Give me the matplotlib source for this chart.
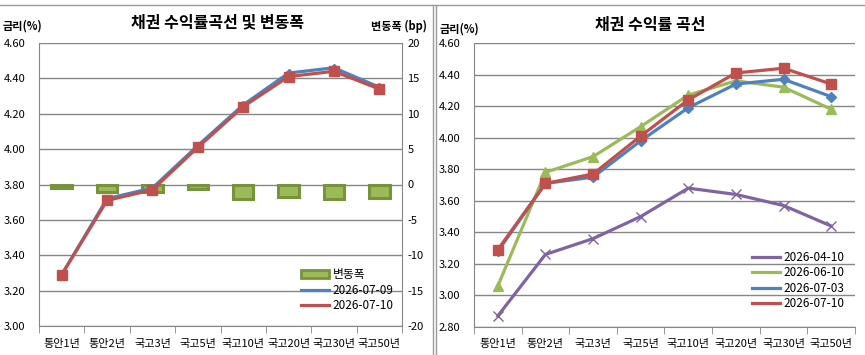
import numpy as np
import matplotlib.pyplot as plt
from matplotlib.patches import Patch
from matplotlib.lines import Line2D

plt.rcParams['font.family'] = ['Noto Sans CJK KR', 'DejaVu Sans']
plt.rcParams['axes.unicode_minus'] = False

# ---- data ----
cats = ['통안1년', '통안2년', '국고3년', '국고5년', '국고10년', '국고20년', '국고30년', '국고50년']

# left chart
left_dates = ['2026-07-09', '2026-07-10']
rate_0709 = [3.29, 3.72, 3.78, 4.02, 4.25, 4.43, 4.46, 4.35]
rate_0710 = [3.29, 3.71, 3.77, 4.01, 4.24, 4.41, 4.44, 4.34]
chg_bp = [-0.5, -1.0, -1.0, -0.7, -2.0, -1.7, -2.0, -1.9]

# right chart
right_dates = ['2026-04-10', '2026-06-10', '2026-07-03', '2026-07-10']
rate_0410 = [2.87, 3.26, 3.36, 3.50, 3.68, 3.64, 3.57, 3.44]
rate_0610 = [3.06, 3.78, 3.88, 4.07, 4.27, 4.36, 4.32, 4.18]
rate_0703 = [3.28, 3.71, 3.75, 3.98, 4.19, 4.34, 4.37, 4.26]

BLUE = '#4F81BD'
RED = '#C0504D'
GREEN = '#9BBB59'
DKGREEN = '#77933C'
PURPLE = '#8064A2'
GRID = '#868686'

W, H = 865, 355
fig = plt.figure(figsize=(W / 100, H / 100), dpi=100)
fig.patch.set_facecolor('white')

def rect(x0, y0, x1, y1):
    return [x0 / W, 1 - y1 / H, (x1 - x0) / W, (y1 - y0) / H]

x = np.arange(len(cats))

def style_x(ax):
    ax.set_xlim(-0.5, len(cats) - 0.5)
    ax.set_xticks(x)
    ax.set_xticklabels(cats, fontsize=8)
    ax.set_xticks(np.arange(-0.5, len(cats)), minor=True)
    ax.tick_params(axis='x', which='major', length=0, pad=9)
    ax.tick_params(axis='x', which='minor', length=5, color=GRID, direction='out')

# ---------- left chart ----------
r = rect(39, 43, 402, 326)
ax_bp = fig.add_axes(r)
ax_bp.bar(x, chg_bp, width=0.45, color=GREEN, edgecolor=DKGREEN, linewidth=2.2, zorder=3)
ax_bp.set_ylim(-20, 20)
ax_bp.set_yticks(np.arange(-20, 21, 5))
ax_bp.yaxis.tick_right()
ax_bp.tick_params(axis='y', length=0, labelsize=8, pad=4)
ax_bp.grid(axis='y', color=GRID, linewidth=1, zorder=0)
ax_bp.set_axisbelow(True)
style_x(ax_bp)
ax_bp.spines['top'].set_visible(False)
for s in ['left', 'right', 'bottom']:
    ax_bp.spines[s].set_color(GRID)

ax_r = fig.add_axes(r, sharex=ax_bp)
ax_r.patch.set_visible(False)
ax_r.plot(x, rate_0709, color=BLUE, lw=2.3, marker='D', ms=4, zorder=4)
ax_r.plot(x, rate_0710, color=RED, lw=2.3, marker='s', ms=6.5, zorder=5)
ax_r.set_ylim(3.0, 4.6)
ax_r.set_yticks(np.arange(3.0, 4.61, 0.2))
ax_r.set_yticklabels(['%.2f' % v for v in np.arange(3.0, 4.61, 0.2)])
ax_r.tick_params(axis='y', length=0, labelsize=8, pad=10)
ax_r.tick_params(axis='x', which='both', length=0, labelbottom=False)
for s in ax_r.spines.values():
    s.set_visible(False)

h_left = [Patch(facecolor=GREEN, edgecolor=DKGREEN, linewidth=2),
          Line2D([], [], color=BLUE, lw=2.3),
          Line2D([], [], color=RED, lw=2.3)]
ax_r.legend(h_left, ['변동폭'] + left_dates, loc='lower right', frameon=False,
            fontsize=8.5, handlelength=2.4, handleheight=0.6, labelspacing=0.2,
            handletextpad=0.3, borderaxespad=0.3, bbox_to_anchor=(1.0, 0.02))

fig.text(218 / W, 1 - 22 / H, '채권 수익률곡선 및 변동폭', ha='center', va='center',
         fontsize=11.5, fontweight='bold')
fig.text(3 / W, 1 - 26 / H, '금리(%)', ha='left', va='center', fontsize=8, fontweight='bold')
fig.text(427 / W, 1 - 26 / H, '변동폭 (bp)', ha='right', va='center', fontsize=8, fontweight='bold')

# ---------- right chart ----------
ax2 = fig.add_axes(rect(474, 43, 855, 327))
ax2.plot(x, rate_0410, color=PURPLE, lw=2.3, marker='x', ms=7, mew=1, zorder=3)
ax2.plot(x, rate_0610, color=GREEN, lw=2.3, marker='^', ms=6.5, zorder=4)
ax2.plot(x, rate_0703, color=BLUE, lw=2.3, marker='D', ms=5, zorder=5)
ax2.plot(x, rate_0710, color=RED, lw=2.3, marker='s', ms=7, zorder=6)
ax2.set_ylim(2.8, 4.6)
ax2.set_yticks(np.arange(2.8, 4.61, 0.2))
ax2.set_yticklabels(['%.2f' % v for v in np.arange(2.8, 4.61, 0.2)])
ax2.tick_params(axis='y', length=0, labelsize=8, pad=10)
ax2.grid(axis='y', color=GRID, linewidth=1, zorder=0)
ax2.set_axisbelow(True)
style_x(ax2)
for s in ['top', 'right']:
    ax2.spines[s].set_visible(False)
for s in ['left', 'bottom']:
    ax2.spines[s].set_color(GRID)

h_right = [Line2D([], [], color=c, lw=2.3) for c in [PURPLE, GREEN, BLUE, RED]]
ax2.legend(h_right, right_dates, loc='lower right', frameon=False,
           fontsize=8.5, handlelength=2.4, labelspacing=0.2, handletextpad=0.3,
           borderaxespad=0.3, bbox_to_anchor=(0.995, 0.03))

fig.text(650 / W, 1 - 25 / H, '채권 수익률 곡선', ha='center', va='center',
         fontsize=11.5, fontweight='bold')
fig.text(440 / W, 1 - 29 / H, '금리(%)', ha='left', va='center', fontsize=8, fontweight='bold')

# chart frames / sheet lines
fig.add_artist(Line2D([432.5 / W, 432.5 / W], [0, 1 - 5 / H], color='#9a9a9a', lw=1))
fig.add_artist(Line2D([435.5 / W, 435.5 / W], [0, 1 - 5 / H], color='#9a9a9a', lw=1))
fig.add_artist(Line2D([0, 1], [1 - 5 / H, 1 - 5 / H], color='#9a9a9a', lw=1))

fig.savefig('out.png', dpi=100)
